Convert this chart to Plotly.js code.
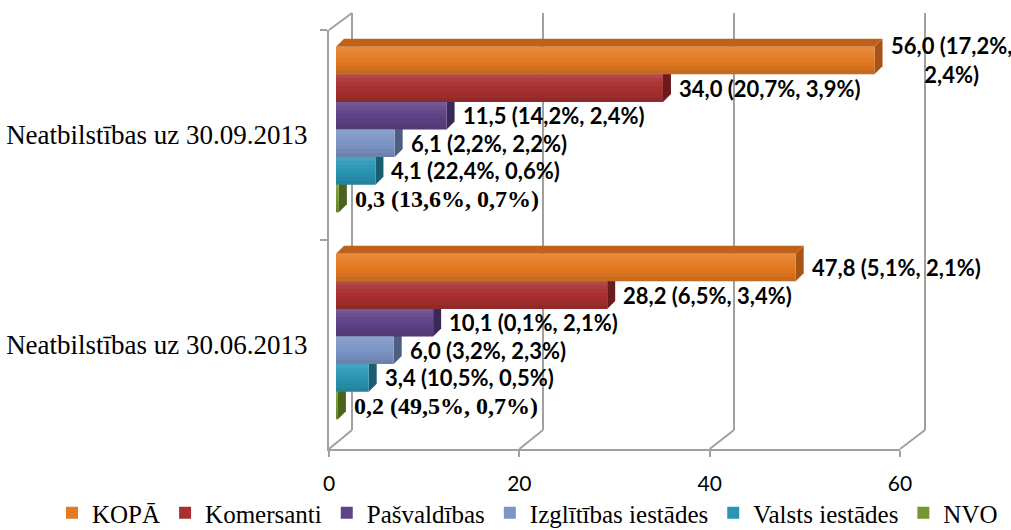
<!DOCTYPE html>
<html>
<head>
<meta charset="utf-8">
<script src="https://cdn.plot.ly/plotly-3.0.1.min.js"></script>
<style>
  html, body { margin: 0; padding: 0; background: #ffffff; }
  #chart { width: 1011px; height: 530px; }
</style>
</head>
<body>
<div id="chart"></div>
<script>
// ---------- data ----------
const categories = ['Neatbilstības uz 30.09.2013', 'Neatbilstības uz 30.06.2013'];
const seriesNames = ['KOPĀ', 'Komersanti', 'Pašvaldības', 'Izglītības iestādes', 'Valsts iestādes', 'NVO'];

const kopa        = [56.0, 47.8];
const komersanti  = [34.0, 28.2];
const pasvaldibas = [11.5, 10.1];
const izglitibas  = [6.1, 6.0];
const valsts      = [4.1, 3.4];
const nvo         = [0.3, 0.2];

// first bracketed percentage
const kopaPctA        = [17.2, 5.1];
const komersantiPctA  = [20.7, 6.5];
const pasvaldibasPctA = [14.2, 0.1];
const izglitibasPctA  = [2.2, 3.2];
const valstsPctA      = [22.4, 10.5];
const nvoPctA         = [13.6, 49.5];

// second bracketed percentage
const kopaPctB        = [2.4, 2.1];
const komersantiPctB  = [3.9, 3.4];
const pasvaldibasPctB = [2.4, 2.1];
const izglitibasPctB  = [2.2, 2.3];
const valstsPctB      = [0.6, 0.5];
const nvoPctB         = [0.7, 0.7];

const xTicks = [0, 20, 40, 60];

// ---------- styling ----------
const frontColors = ['#E47A22', '#A83030', '#5F4387', '#7C95C6', '#2A96B4', '#74982F'];
const sideColors  = ['#A95417', '#6B1B1B', '#3A2856', '#4E5E80', '#1A5E70', '#4A6420'];
const topColors   = ['#BF611A', '#8A2626', '#4A3470', '#6479A6', '#217C95', '#5F7E26'];
// vertical shading of the front faces (white > 0, black < 0)
const shade = [0.12, 0.07, 0.03, 0, -0.04, -0.08, -0.13];

const values = [kopa, komersanti, pasvaldibas, izglitibas, valsts, nvo];
const pctA = [kopaPctA, komersantiPctA, pasvaldibasPctA, izglitibasPctA, valstsPctA, nvoPctA];
const pctB = [kopaPctB, komersantiPctB, pasvaldibasPctB, izglitibasPctB, valstsPctB, nvoPctB];

const W = 1011, H = 530;
const px = x => x / W;
const py = y => 1 - y / H;

// pixel geometry of the pseudo-3D box
const FX0 = 329, FX1 = 900, FY0 = 30, FY1 = 449;   // front plane
const BX0 = 352, BX1 = 925, BY0 = 13, BY1 = 430;   // back plane
const XB0 = 336, XB1 = 913, YB0 = 26, YB1 = 440;   // bar plane
const XMAX = 60;
const pad = 0.6;
const bScale = (BX1 - BX0) / XMAX;

const gridColor = '#a0a0a0';
const nSeries = seriesNames.length;
const groupW = 0.8;
const barW = groupW / nSeries;
const catPos = categories.map((_, k) => k);

// depth of the 3D faces, in data units of the bar axes
const depthPx = 8;
const dxu = depthPx * XMAX / (XB1 - XB0);
const dyu = depthPx * categories.length / (YB1 - YB0);

const fmt = v => v.toFixed(1).replace('.', ',');

const traces = [];
// dummy traces so the back and front subplots exist
traces.push({type: 'scatter', x: [0], y: [0], mode: 'markers', marker: {opacity: 0},
  xaxis: 'x', yaxis: 'y', showlegend: false, hoverinfo: 'skip'});
traces.push({type: 'scatter', x: [0, 0], y: categories, mode: 'markers', marker: {opacity: 0},
  xaxis: 'x3', yaxis: 'y3', showlegend: false, hoverinfo: 'skip'});

const shapes = [];
const annotations = [];

seriesNames.forEach((name, i) => {
  const off = -groupW / 2 + i * barW;
  traces.push({
    type: 'bar', orientation: 'h', name: name,
    x: values[i], y: catPos,
    offset: off, width: barW,
    xaxis: 'x2', yaxis: 'y2',
    marker: {color: frontColors[i], line: {width: 0}},
    hovertext: categories, hoverinfo: 'x+text+name'
  });
  values[i].forEach((v, k) => {
    const lo = k + off, hi = k + off + barW;   // lo is visually the upper edge (reversed axis)
    // side face
    shapes.push({type: 'path', xref: 'x2', yref: 'y2', layer: 'between',
      path: `M${v},${lo} L${v + dxu},${lo - dyu} L${v + dxu},${hi - dyu} L${v},${hi} Z`,
      fillcolor: sideColors[i], line: {width: 0}});
    // top face
    shapes.push({type: 'path', xref: 'x2', yref: 'y2', layer: 'between',
      path: `M0,${lo} L${dxu},${lo - dyu} L${v + dxu},${lo - dyu} L${v},${lo} Z`,
      fillcolor: topColors[i], line: {width: 0}});
    // vertical shading strips on the front face
    shade.forEach((a, s) => {
      if (a === 0) return;
      const y0 = lo + s * barW / shade.length, y1 = lo + (s + 1) * barW / shade.length;
      shapes.push({type: 'rect', xref: 'x2', yref: 'y2', layer: 'above',
        x0: 0, x1: v, y0: y0, y1: y1, line: {width: 0},
        fillcolor: a > 0 ? `rgba(255,255,255,${a})` : `rgba(0,0,0,${-a})`});
    });

    // label
    let text = `${fmt(v)} (${fmt(pctA[i][k])}%, ${fmt(pctB[i][k])}%)`;
    const startPx = XB0 + v / XMAX * (XB1 - XB0) + depthPx + 4;
    if (startPx + text.length * 10.3 > W) {
      text = `${fmt(v)} (${fmt(pctA[i][k])}%,<br>${fmt(pctB[i][k])}%)`;
    }
    const serif = (i === nSeries - 1);
    annotations.push({
      xref: 'x2', yref: 'y2', x: v, y: (lo + hi) / 2,
      xanchor: 'left', yanchor: 'middle', xshift: depthPx + 6, align: 'center',
      text: text, showarrow: false,
      font: serif ? {family: 'Liberation Serif', size: 24, color: '#000', weight: 'bold'}
                  : {family: 'Lato', size: 22, color: '#000', weight: 'bold'}
    });
  });
});

// frame lines: floor diagonals and top-left diagonal
xTicks.forEach(t => {
  shapes.push({type: 'line', xref: 'paper', yref: 'paper', layer: 'below',
    x0: px(FX0 + t / XMAX * (FX1 - FX0)), y0: py(FY1),
    x1: px(BX0 + t / XMAX * (BX1 - BX0)), y1: py(BY1),
    line: {color: gridColor, width: 2}});
});
shapes.push({type: 'line', xref: 'paper', yref: 'paper', layer: 'below',
  x0: px(FX0), y0: py(FY0), x1: px(BX0), y1: py(BY0),
  line: {color: gridColor, width: 2}});

const layout = {
  width: W, height: H,
  margin: {l: 0, r: 0, t: 0, b: 0, autoexpand: false},
  paper_bgcolor: '#ffffff', plot_bgcolor: 'rgba(0,0,0,0)',
  showlegend: true,
  barmode: 'overlay',
  // back wall (range padded so the end gridlines are kept)
  xaxis: {domain: [px(BX0 - pad * bScale), px(BX1 + pad * bScale)], range: [-pad, XMAX + pad],
          tickvals: xTicks, showticklabels: false,
          ticks: '', showgrid: true, gridcolor: gridColor, gridwidth: 2, zeroline: false,
          showline: false, anchor: 'y', fixedrange: true},
  yaxis: {domain: [py(BY1), py(BY0)], range: [0, 1], visible: false, anchor: 'x', fixedrange: true},
  // bars
  xaxis2: {domain: [px(XB0), px(XB1)], range: [0, XMAX], visible: false, anchor: 'y2', fixedrange: true},
  yaxis2: {domain: [py(YB1), py(YB0)], range: [categories.length - 0.5, -0.5], visible: false,
           anchor: 'x2', fixedrange: true},
  // front axes
  xaxis3: {domain: [px(FX0), px(FX1)], range: [0, XMAX], tickvals: xTicks, ticktext: xTicks.map(String),
           showline: true, linecolor: gridColor, linewidth: 2, ticks: 'outside', ticklen: 6,
           tickcolor: gridColor, tickwidth: 2, showgrid: false, zeroline: false,
           tickfont: {family: 'Lato', size: 21, color: '#000'}, ticklabelstandoff: 9,
           anchor: 'y3', fixedrange: true},
  yaxis3: {domain: [py(FY1), py(FY0)], type: 'category', categoryorder: 'array', categoryarray: categories,
           range: [categories.length - 0.5, -0.5], showline: true, linecolor: gridColor, linewidth: 2,
           ticks: 'outside', tickson: 'boundaries', ticklen: 7, tickcolor: gridColor, tickwidth: 2,
           showgrid: false, zeroline: false, ticklabelstandoff: 14,
           tickfont: {family: 'Liberation Serif', size: 27, color: '#000'},
           anchor: 'x3', fixedrange: true},
  legend: {orientation: 'h', x: 0.5 + 22 / W, xanchor: 'center', y: py(513), yanchor: 'middle',
           font: {family: 'Liberation Serif', size: 25, color: '#000'},
           bgcolor: 'rgba(0,0,0,0)', traceorder: 'normal', itemclick: false, itemdoubleclick: false},
  shapes: shapes,
  annotations: annotations
};

Plotly.newPlot('chart', traces, layout, {displayModeBar: false, staticPlot: true});
</script>
</body>
</html>
